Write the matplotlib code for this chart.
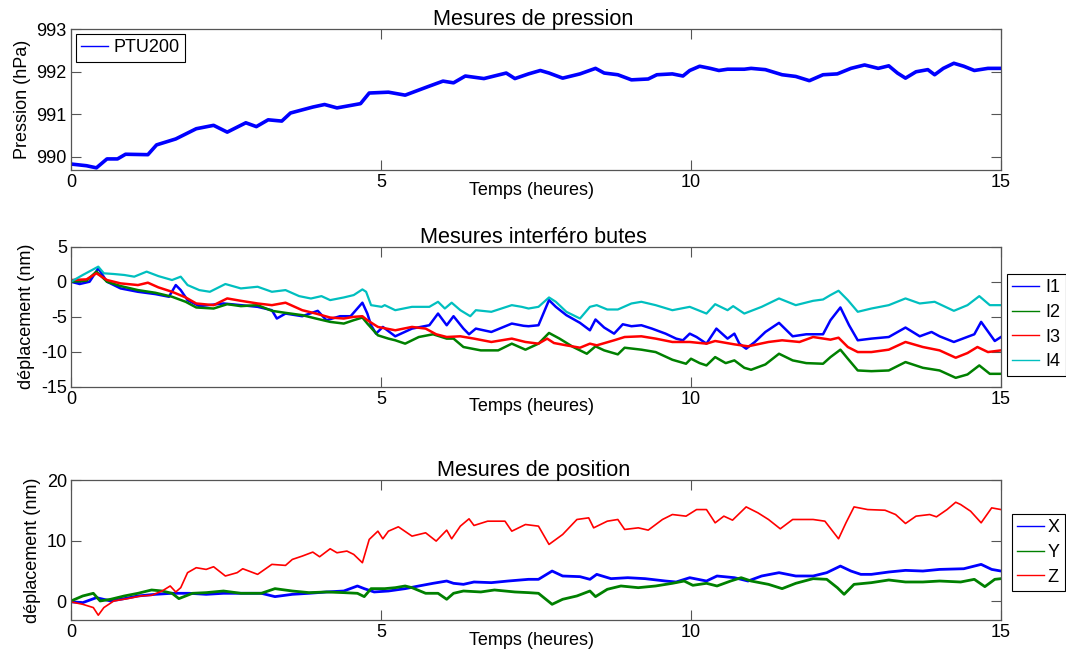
import matplotlib.pyplot as plt

plt.rcParams['font.family'] = ['Liberation Sans', 'DejaVu Sans']
plt.rcParams['font.size'] = 13
plt.rcParams['axes.unicode_minus'] = False

# Pression (hPa)
t_p = [0, 0.25, 0.41, 0.58, 0.75, 0.88, 1.24, 1.38, 1.69, 2.02, 2.30, 2.52, 2.82, 2.99, 3.18,
       3.40, 3.54, 3.90, 4.09, 4.29, 4.67, 4.81, 5.12, 5.39, 5.72, 6.00, 6.17, 6.36, 6.66, 7.02,
       7.16, 7.38, 7.57, 7.71, 7.93, 8.21, 8.46, 8.60, 8.82, 9.04, 9.31, 9.45, 9.70, 9.87, 9.98,
       10.14, 10.31, 10.45, 10.59, 10.86, 10.97, 11.20, 11.47, 11.69, 11.91, 12.13, 12.36, 12.58,
       12.80, 13.02, 13.19, 13.33, 13.46, 13.63, 13.82, 13.93, 14.07, 14.24, 14.40, 14.57, 14.79, 15.00]
ptu200 = [989.83, 989.79, 989.74, 989.95, 989.95, 990.06, 990.05, 990.28, 990.42, 990.66, 990.74,
          990.58, 990.80, 990.71, 990.87, 990.84, 991.03, 991.17, 991.23, 991.15, 991.25, 991.50,
          991.52, 991.45, 991.63, 991.78, 991.74, 991.90, 991.84, 991.97, 991.84, 991.95, 992.03,
          991.97, 991.85, 991.95, 992.08, 991.97, 991.93, 991.81, 991.83, 991.93, 991.95, 991.90,
          992.03, 992.13, 992.08, 992.03, 992.06, 992.06, 992.08, 992.05, 991.93, 991.89, 991.79,
          991.93, 991.95, 992.08, 992.16, 992.08, 992.14, 991.97, 991.85, 992.00, 992.05, 991.93,
          992.08, 992.20, 992.13, 992.03, 992.08, 992.08]

# Interféro butes (nm)
t_i1 = [0, 0.14, 0.30, 0.44, 0.58, 0.80, 1.08, 1.36, 1.58, 1.69, 1.77, 1.88, 2.07, 2.46, 2.74, 3.01,
        3.24, 3.32, 3.46, 3.73, 3.98, 4.12, 4.34, 4.51, 4.70, 4.78, 4.84, 4.92, 5.03, 5.23, 5.50,
        5.78, 5.92, 6.06, 6.17, 6.33, 6.42, 6.53, 6.78, 7.11, 7.30, 7.38, 7.54, 7.71, 7.82, 7.99,
        8.21, 8.37, 8.46, 8.60, 8.76, 8.90, 9.04, 9.20, 9.37, 9.59, 9.76, 9.87, 9.98, 10.09, 10.25,
        10.41, 10.59, 10.70, 10.78, 10.89, 11.03, 11.20, 11.42, 11.64, 11.86, 12.13, 12.25, 12.41,
        12.55, 12.69, 12.91, 13.19, 13.46, 13.69, 13.88, 14.01, 14.24, 14.57, 14.68, 14.90, 15.0]
i1 = [0, -0.33, 0, 1.9, 0, -0.96, -1.44, -1.77, -2.15, -0.48, -1.2, -2.63, -3.49, -3.11, -3.35, -3.59,
      -4.07, -5.26, -4.55, -4.93, -4.16, -5.5, -4.93, -4.93, -3.0, -4.55, -6.22, -7.42, -6.46, -7.8,
      -6.7, -6.22, -4.55, -6.22, -4.93, -6.7, -7.51, -6.7, -7.18, -5.98, -6.3, -6.36, -6.22, -2.63,
      -3.59, -4.78, -5.88, -6.94, -5.4, -6.55, -7.42, -6.08, -6.36, -6.22, -6.7, -7.42, -8.13, -8.37,
      -7.42, -7.9, -8.85, -6.7, -8.13, -7.42, -8.85, -9.57, -8.61, -7.18, -5.88, -7.8, -7.51, -7.51,
      -5.5, -3.68, -6.22, -8.37, -8.13, -7.9, -6.55, -7.8, -7.18, -7.8, -8.61, -7.51, -5.74, -8.47, -7.9]

t_i2 = [0, 0.25, 0.41, 0.58, 0.80, 1.08, 1.36, 1.63, 1.85, 2.02, 2.30, 2.52, 2.74, 3.01, 3.24, 3.46,
        3.73, 3.95, 4.18, 4.40, 4.56, 4.70, 4.78, 4.95, 5.12, 5.23, 5.39, 5.61, 5.84, 6.06, 6.17,
        6.33, 6.61, 6.89, 7.11, 7.33, 7.54, 7.71, 7.88, 8.10, 8.32, 8.46, 8.60, 8.82, 8.93, 9.20,
        9.43, 9.70, 9.92, 10.00, 10.14, 10.25, 10.39, 10.56, 10.70, 10.86, 10.97, 11.20, 11.42, 11.64,
        11.86, 12.13, 12.25, 12.41, 12.53, 12.69, 12.91, 13.19, 13.46, 13.74, 14.01, 14.27, 14.46,
        14.65, 14.82, 15.0]
i2 = [0, 0.14, 1.44, 0, -0.62, -1.2, -1.58, -2.15, -2.87, -3.68, -3.83, -3.21, -3.49, -3.35, -4.16,
      -4.45, -4.78, -5.26, -5.74, -5.98, -5.5, -5.12, -5.98, -7.66, -8.13, -8.37, -8.85, -7.9, -7.51,
      -8.13, -8.13, -9.33, -9.81, -9.81, -8.85, -9.71, -8.85, -7.32, -8.13, -9.33, -10.29, -9.23,
      -9.81, -10.38, -9.43, -9.71, -10.05, -11.15, -11.72, -11.0, -11.63, -11.96, -10.77, -11.63,
      -11.24, -12.3, -12.58, -11.82, -10.29, -11.24, -11.63, -11.72, -10.77, -9.71, -11.0, -12.68,
      -12.78, -12.68, -11.48, -12.3, -12.68, -13.73, -13.25, -11.96, -13.16, -13.16]

t_i3 = [0, 0.25, 0.41, 0.58, 0.80, 1.08, 1.24, 1.41, 1.63, 1.85, 2.02, 2.30, 2.52, 2.74, 3.01, 3.24,
        3.46, 3.73, 3.95, 4.18, 4.40, 4.56, 4.70, 4.78, 4.95, 5.23, 5.50, 5.72, 5.89, 6.06, 6.28,
        6.50, 6.78, 7.11, 7.33, 7.54, 7.68, 7.79, 7.99, 8.21, 8.37, 8.48, 8.76, 8.93, 9.20, 9.43,
        9.70, 9.98, 10.25, 10.39, 10.70, 10.92, 11.25, 11.47, 11.75, 11.97, 12.25, 12.38, 12.53,
        12.69, 12.91, 13.19, 13.46, 13.74, 14.01, 14.27, 14.46, 14.62, 14.79, 15.0]
i3 = [0.24, 0.33, 1.2, 0.24, -0.24, -0.48, -0.14, -0.81, -1.44, -2.25, -3.11, -3.35, -2.39, -2.73,
      -3.11, -3.35, -3.0, -4.07, -4.55, -5.12, -5.26, -5.02, -4.93, -5.5, -6.46, -6.94, -6.46, -6.7,
      -7.51, -7.9, -7.8, -8.13, -8.61, -8.13, -8.61, -8.85, -8.13, -8.76, -9.09, -9.43, -8.85, -9.09,
      -8.37, -7.9, -7.8, -8.13, -8.61, -8.61, -8.85, -8.47, -8.95, -9.23, -8.61, -8.37, -8.61, -7.9,
      -8.28, -8.0, -9.33, -10.05, -10.05, -9.71, -8.61, -9.33, -9.81, -10.86, -10.19, -9.33, -10.05,
      -9.81]

t_i4 = [0, 0.19, 0.44, 0.53, 0.69, 0.86, 1.02, 1.22, 1.41, 1.63, 1.77, 1.88, 2.07, 2.24, 2.49, 2.74,
        3.01, 3.24, 3.46, 3.68, 3.87, 4.04, 4.18, 4.40, 4.56, 4.70, 4.76, 4.84, 5.01, 5.06, 5.23,
        5.50, 5.78, 5.92, 6.03, 6.14, 6.28, 6.44, 6.53, 6.78, 7.11, 7.27, 7.38, 7.54, 7.71, 7.82,
        7.99, 8.21, 8.37, 8.48, 8.65, 8.82, 9.04, 9.20, 9.43, 9.70, 9.98, 10.25, 10.39, 10.59, 10.68,
        10.86, 11.14, 11.42, 11.69, 11.97, 12.13, 12.25, 12.38, 12.53, 12.69, 12.91, 13.19, 13.46,
        13.69, 13.93, 14.24, 14.46, 14.65, 14.82, 15.0]
i4 = [0, 0.96, 2.15, 1.2, 1.1, 0.96, 0.72, 1.44, 0.8, 0.24, 0.72, -0.48, -1.2, -1.44, -0.33, -0.96,
      -0.72, -1.44, -1.2, -2.06, -2.4, -2.06, -2.63, -2.25, -1.91, -1.1, -1.44, -3.35, -3.59, -3.35,
      -4.07, -3.59, -3.59, -2.87, -3.83, -3.0, -4.07, -4.93, -4.07, -4.3, -3.35, -3.59, -3.83, -3.59,
      -2.25, -2.87, -4.3, -5.26, -3.59, -3.35, -3.97, -3.97, -3.11, -2.87, -3.35, -4.07, -3.59, -4.55,
      -3.21, -4.07, -3.49, -4.55, -3.59, -2.39, -3.35, -2.73, -2.54, -1.91, -1.29, -2.63, -4.3, -3.83,
      -3.35, -2.39, -3.11, -2.87, -4.16, -3.35, -2.06, -3.35, -3.35]

# Position (nm)
t_x = [0, 0.19, 0.41, 0.64, 0.86, 1.08, 1.36, 1.63, 1.91, 2.18, 2.46, 2.74, 3.07, 3.29, 3.57, 3.84,
       4.12, 4.40, 4.62, 4.73, 4.89, 5.12, 5.39, 5.61, 5.84, 6.06, 6.17, 6.33, 6.50, 6.78, 7.05,
       7.38, 7.54, 7.76, 7.93, 8.21, 8.37, 8.48, 8.71, 8.98, 9.26, 9.59, 9.76, 9.98, 10.25, 10.42,
       10.70, 10.92, 11.14, 11.42, 11.69, 11.97, 12.19, 12.41, 12.58, 12.74, 12.91, 13.19, 13.46,
       13.74, 14.01, 14.40, 14.68, 14.85, 15.0]
pos_x = [-0.1, -0.22, 0.6, 0.05, 0.44, 0.88, 1.15, 1.32, 1.32, 1.15, 1.32, 1.32, 1.32, 0.77, 1.15,
         1.32, 1.54, 1.7, 2.53, 2.09, 1.54, 1.7, 2.09, 2.53, 2.97, 3.35, 2.97, 2.8, 3.19, 3.08, 3.35,
         3.63, 3.63, 5.0, 4.18, 4.07, 3.63, 4.45, 3.74, 3.9, 3.74, 3.35, 3.19, 3.9, 3.35, 4.18, 3.9,
         3.35, 4.18, 4.73, 4.18, 4.18, 4.73, 5.82, 5.0, 4.45, 4.45, 4.84, 5.11, 5.0, 5.27, 5.38, 6.1,
         5.27, 5.0]

t_y = [0, 0.19, 0.36, 0.47, 0.64, 0.86, 1.08, 1.30, 1.47, 1.63, 1.74, 1.96, 2.18, 2.46, 2.74, 3.07,
       3.29, 3.57, 3.84, 4.12, 4.40, 4.62, 4.73, 4.84, 5.06, 5.23, 5.39, 5.50, 5.72, 5.92, 6.06,
       6.17, 6.33, 6.61, 6.83, 7.16, 7.38, 7.54, 7.76, 7.93, 8.16, 8.37, 8.46, 8.65, 8.87, 9.15,
       9.43, 9.70, 9.89, 10.03, 10.25, 10.42, 10.64, 10.81, 10.97, 11.25, 11.47, 11.69, 11.97, 12.19,
       12.36, 12.47, 12.63, 12.91, 13.19, 13.46, 13.74, 14.01, 14.35, 14.57, 14.74, 14.90, 15.0]
pos_y = [0.05, 0.88, 1.32, 0.05, 0.33, 0.88, 1.32, 1.87, 1.7, 1.32, 0.44, 1.32, 1.43, 1.7, 1.32, 1.32,
         2.09, 1.7, 1.43, 1.54, 1.43, 1.32, 0.77, 2.09, 2.09, 2.25, 2.53, 2.25, 1.32, 1.32, 0.33, 1.32,
         1.7, 1.54, 1.87, 1.54, 1.43, 1.32, -0.5, 0.33, 0.88, 1.7, 0.77, 1.98, 2.53, 2.25, 2.53, 2.97,
         3.35, 2.64, 2.97, 2.53, 3.35, 3.9, 3.35, 2.8, 2.09, 2.97, 3.74, 3.63, 2.25, 1.15, 2.8, 3.08,
         3.52, 3.19, 3.19, 3.35, 3.19, 3.63, 2.42, 3.63, 3.74]

t_z = [0, 0.19, 0.36, 0.44, 0.53, 0.69, 0.91, 1.13, 1.30, 1.47, 1.60, 1.69, 1.77, 1.88, 2.02, 2.18,
       2.30, 2.49, 2.68, 2.77, 3.01, 3.24, 3.46, 3.57, 3.73, 3.90, 4.01, 4.18, 4.29, 4.45, 4.56,
       4.70, 4.81, 4.95, 5.03, 5.12, 5.28, 5.50, 5.72, 5.89, 6.06, 6.14, 6.28, 6.42, 6.50, 6.72,
       7.00, 7.11, 7.33, 7.54, 7.71, 7.93, 8.16, 8.35, 8.43, 8.65, 8.82, 8.93, 9.15, 9.31, 9.54,
       9.70, 9.92, 10.09, 10.25, 10.39, 10.53, 10.67, 10.89, 11.08, 11.25, 11.44, 11.64, 11.97,
       12.16, 12.38, 12.50, 12.63, 12.85, 13.13, 13.30, 13.46, 13.63, 13.85, 13.96, 14.13, 14.27,
       14.35, 14.51, 14.68, 14.85, 15.0]
pos_z = [-0.1, -0.5, -1.04, -2.3, -1.04, 0.05, 0.44, 0.88, 0.99, 1.7, 2.53, 1.54, 2.25, 4.73, 5.55,
         5.27, 5.71, 4.18, 4.73, 5.38, 4.45, 6.1, 5.93, 6.92, 7.47, 8.13, 7.36, 8.68, 8.02, 8.3, 7.75,
         6.37, 10.22, 11.59, 10.33, 11.59, 12.31, 10.77, 11.32, 9.95, 11.76, 10.33, 12.42, 13.63,
         12.53, 13.24, 13.24, 11.59, 12.69, 12.42, 9.4, 11.04, 13.52, 13.79, 12.14, 13.24, 13.52,
         11.87, 12.14, 11.76, 13.52, 14.34, 14.07, 15.16, 15.16, 12.97, 14.07, 13.41, 15.6, 14.62,
         13.52, 11.98, 13.52, 13.52, 13.24, 10.33, 12.97, 15.6, 15.16, 15.05, 14.34, 12.86, 14.07,
         14.34, 13.96, 15.16, 16.37, 15.99, 14.89, 12.97, 15.44, 15.16]

x_ticks = [0, 5, 10, 15]

blue = (0, 0, 1)
green = (0, 0.5, 0)
red = (1, 0, 0)
cyan = (0, 0.75, 0.75)
axis_col = '#555555'


def style_axes(ax, yticks, ylim):
    ax.set_xlim(0, 15)
    ax.set_ylim(*ylim)
    ax.set_xticks(x_ticks)
    ax.set_yticks(yticks)
    ax.tick_params(direction='in', length=7, width=0.8, color=axis_col,
                   top=True, right=True, labelsize=13, pad=3)
    for s in ax.spines.values():
        s.set_color(axis_col)
        s.set_linewidth(0.9)
    ax.set_xlabel('Temps (heures)')
    ax.xaxis.set_label_coords(0.495, -0.082)


def style_legend(leg):
    frame = leg.get_frame()
    frame.set_edgecolor('black')
    frame.set_linewidth(0.8)
    for line in leg.get_lines():
        line.set_linewidth(1.0)


fig = plt.figure(figsize=(10.66, 6.53), dpi=100)
ax1 = fig.add_axes([0.0666, 0.7397, 0.8724, 0.2155])
ax2 = fig.add_axes([0.0666, 0.4078, 0.8724, 0.2144])
ax3 = fig.add_axes([0.0666, 0.0501, 0.8724, 0.2144])

# Pression
ax1.plot(t_p, ptu200, color=blue, lw=2.6, label='PTU200')
style_axes(ax1, [990, 991, 992, 993], (989.69, 993))
ax1.ticklabel_format(axis='y', useOffset=False)
ax1.set_ylabel('Pression (hPa)')
ax1.set_title('Mesures de pression', pad=3, x=0.497)
leg = ax1.legend(loc='upper left', bbox_to_anchor=(0.005, 0.967), borderaxespad=0,
                 fancybox=False, framealpha=1, handlelength=1.5, handletextpad=0.3,
                 borderpad=0.3)
style_legend(leg)

# Interféro
ax2.plot(t_i1, i1, color=blue, lw=1.8, label='I1')
ax2.plot(t_i2, i2, color=green, lw=1.8, label='I2')
ax2.plot(t_i3, i3, color=red, lw=1.8, label='I3')
ax2.plot(t_i4, i4, color=cyan, lw=1.6, label='I4')
style_axes(ax2, [-15, -10, -5, 0, 5], (-15, 5))
ax2.set_ylabel('déplacement (nm)')
ax2.set_title('Mesures interféro butes', pad=3, x=0.497)
leg = ax2.legend(loc='upper left', bbox_to_anchor=(1.006, 0.805), borderaxespad=0,
                 fancybox=False, framealpha=1, handlelength=1.5, handletextpad=0.35,
                 borderpad=0.3, labelspacing=0.42)
style_legend(leg)

# Position
ax3.plot(t_x, pos_x, color=blue, lw=2.0, label='X')
ax3.plot(t_y, pos_y, color=green, lw=2.0, label='Y')
ax3.plot(t_z, pos_z, color=red, lw=1.2, label='Z')
style_axes(ax3, [0, 10, 20], (-3.14, 20))
ax3.set_ylabel('déplacement (nm)')
ax3.set_title('Mesures de position', pad=3, x=0.497)
leg = ax3.legend(loc='upper left', bbox_to_anchor=(1.0115, 0.759), borderaxespad=0,
                 fancybox=False, framealpha=1, handlelength=1.5, handletextpad=0.2,
                 borderpad=0.3, labelspacing=0.42)
style_legend(leg)

fig.savefig('out.png', dpi=100)
